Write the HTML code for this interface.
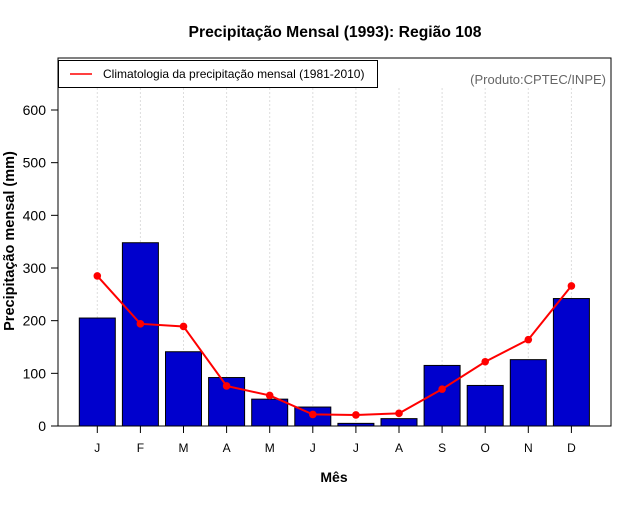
<!DOCTYPE html>
<html><head><meta charset="utf-8"><style>
body{margin:0;background:#fff}
svg text{font-family:"Liberation Sans",sans-serif}
</style></head><body>
<svg id="c" width="640" height="500" viewBox="0 0 640 500">
<rect width="640" height="500" fill="#fff"/>
<text x="335" y="37" text-anchor="middle" font-size="15.7" font-weight="bold">Precipitação Mensal (1993): Região 108</text>
<g id="grid"></g>
<g id="bars"></g>
<g id="line"></g>
<rect x="58" y="58" width="553" height="368" fill="none" stroke="#000" stroke-width="1"/>
<g id="yaxis"></g>
<g id="xaxis"></g>
<text x="14" y="241" transform="rotate(-90 14 241)" text-anchor="middle" font-size="14.5" font-weight="bold">Precipitação mensal (mm)</text>
<text x="334" y="482" text-anchor="middle" font-size="14" font-weight="bold">Mês</text>
<g>
<rect x="58.5" y="60.5" width="319" height="27" fill="#fff" stroke="#000"/>
<line x1="70" y1="74" x2="92" y2="74" stroke="#f00" stroke-width="1.5"/>
<text x="103" y="78" font-size="12">Climatologia da precipitação mensal (1981-2010)</text>
</g>
<text x="606" y="84" text-anchor="end" font-size="13" fill="#666">(Produto:CPTEC/INPE)</text>
</svg>
<script>
const months=["J","F","M","A","M","J","J","A","S","O","N","D"];
const observed=[205,348,141,92,51,36,5,14,115,77,126,242];
const climatology=[285,194,189,76,58,22,21,24,70,122,164,266];
const yTicks=[0,100,200,300,400,500,600];
const NS="http://www.w3.org/2000/svg";
const x=i=>97.3+i*43.1;
const y=v=>426-v*316/600;
function mk(t,a,p){const e=document.createElementNS(NS,t);for(const k in a)e.setAttribute(k,a[k]);p.appendChild(e);return e;}
const g=document.getElementById('grid'),b=document.getElementById('bars'),l=document.getElementById('line'),ya=document.getElementById('yaxis'),xa=document.getElementById('xaxis');
months.forEach((m,i)=>{
 const gl=mk('line',{x1:x(i),x2:x(i),y1:88,y2:426,stroke:'#ddd','stroke-dasharray':'2,2'},g);
 
 
 const r=mk('rect',{x:x(i)-18,y:y(observed[i]),width:36,height:426-y(observed[i]),fill:'#0000cd',stroke:'#000','stroke-width':1},b);
 
 
 mk('line',{x1:x(i),x2:x(i),y1:426,y2:433,stroke:'#000'},xa);
 const t=mk('text',{x:x(i),y:452,'text-anchor':'middle','font-size':12},xa);
 t.textContent=m;
 
 
});
const pl=mk('polyline',{points:climatology.map((v,i)=>x(i)+','+y(v)).join(' '),fill:'none',stroke:'#f00','stroke-width':2},l);


climatology.forEach((v,i)=>{
 const c=mk('circle',{cx:x(i),cy:y(v),r:3.8,fill:'#f00'},l);
 
 
});
mk('line',{x1:58,x2:58,y1:y(0),y2:y(600),stroke:'#000'},ya);
yTicks.forEach(v=>{
 mk('line',{x1:51,x2:58,y1:y(v),y2:y(v),stroke:'#000'},ya);
 const t=mk('text',{x:46,y:y(v)+5,'text-anchor':'end','font-size':14},ya);
 t.textContent=v;
 
 
});
</script>
</body></html>
